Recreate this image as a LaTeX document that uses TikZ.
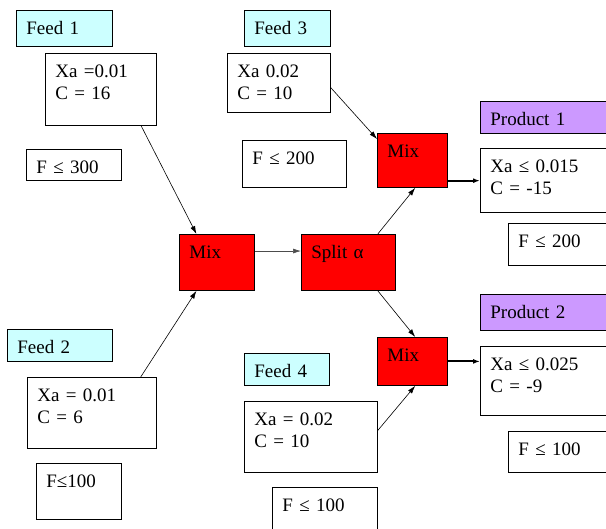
\documentclass[tikz,border=0pt]{standalone}
\usepackage{fontspec}
\setmainfont{Liberation Serif}
\usetikzlibrary{arrows.meta, calc}
\definecolor{feedcyan}{RGB}{204, 255, 255}
\definecolor{prodpurple}{RGB}{204, 153, 255}
\definecolor{mixred}{RGB}{255, 0, 0}

\begin{document}
\begin{tikzpicture}[
    x=1pt, y=-1pt,
    box/.style 2 args={rectangle, draw=black, line width=0.8pt, anchor=north west, inner xsep=10pt, inner ysep=0pt, text width=#1pt, text height=24pt, text depth=#2pt, align=left, font=\fontsize{19}{22}\selectfont},
    feed/.style={fill=feedcyan},
    prod/.style={fill=prodpurple},
    unit/.style={fill=mixred},
    arrow/.style={-{Latex[length=8pt,width=5pt]}, line width=0.6pt},
    flow/.style={-{Latex[length=7pt,width=5pt]}, line width=2pt}
]
\clip (0,0) rectangle (606,529);

% Feed 1
\node[box={76}{12}, feed] (feed1) at (16,10) {Feed 1};
\node[box={91}{48}] (spec1) at (45,53) {Xa =0.01\\C = 16};
\node[box={75}{7}] (lim1) at (26,149) {F ≤ 300};

% Feed 3
\node[box={66}{12}, feed] (feed3) at (244,10) {Feed 3};
\node[box={83}{35}] (spec3) at (227,53) {Xa 0.02\\C = 10};
\node[box={84}{23}] (lim3) at (242,140) {F ≤ 200};

% Feed 2
\node[box={85}{8}, feed] (feed2) at (7,329) {Feed 2};
\node[box={109}{47}] (spec2) at (27,377) {Xa = 0.01\\C = 6};
\node[box={65}{32}] (lim2) at (36,463) {F≤100};

% Feed 4
\node[box={65}{8}, feed] (feed4) at (244,353) {Feed 4};
\node[box={113}{47}] (spec4) at (244,401) {Xa = 0.02\\C = 10};
\node[box={85}{36}] (lim4) at (272,487) {F ≤ 100};

% Units
\node[box={55}{32}, unit] (mixL) at (179,234) {Mix};
\node[box={74}{32}, unit] (split) at (301,234) {Split α};
\node[box={50}{30}, unit] (mixA) at (377,133) {Mix};
\node[box={50}{24}, unit] (mixB) at (377,337) {Mix};

% Products
\node[box={120}{8}, prod] (prod1) at (480,101) {Product 1};
\node[box={120}{40}] (out1) at (480,148) {Xa ≤ 0.015\\C = -15};
\node[box={92}{18}] (olim1) at (508,223) {F ≤ 200};
\node[box={120}{12}, prod] (prod2) at (480,294) {Product 2};
\node[box={120}{45}] (out2) at (480,346) {Xa ≤ 0.025\\C = -9};
\node[box={92}{17}] (olim2) at (508,431) {F ≤ 100};

% Arrows
\draw[arrow] ($(spec1.south west)!0.86!(spec1.south east)$) -- ($(mixL.north west)!0.23!(mixL.north east)$);
\draw[arrow] ($(spec2.north west)!0.876!(spec2.north east)$) -- ($(mixL.south west)!0.23!(mixL.south east)$);
\draw[arrow, draw=black!70] ($(mixL.north east)!0.3!(mixL.south east)$) -- ($(split.north west)!0.3!(split.south west)$);
\draw[arrow] ($(split.north west)!0.81!(split.north east)$) -- ($(mixA.south west)!0.54!(mixA.south east)$);
\draw[arrow] ($(spec3.north east)!0.58!(spec3.south east)$) -- ($(mixA.north west)!0.11!(mixA.south west)$);
\draw[arrow] ($(split.south west)!0.81!(split.south east)$) -- ($(mixB.north west)!0.54!(mixB.north east)$);
\draw[arrow] ($(spec4.north east)!0.41!(spec4.south east)$) -- ($(mixB.south west)!0.54!(mixB.south east)$);
\draw[flow] ($(mixA.north east)!0.87!(mixA.south east)$) -- (out1.west |- {$(mixA.north east)!0.87!(mixA.south east)$});
\draw[flow] (mixB.east) -- (out2.west |- mixB.east);

\end{tikzpicture}
\end{document}
